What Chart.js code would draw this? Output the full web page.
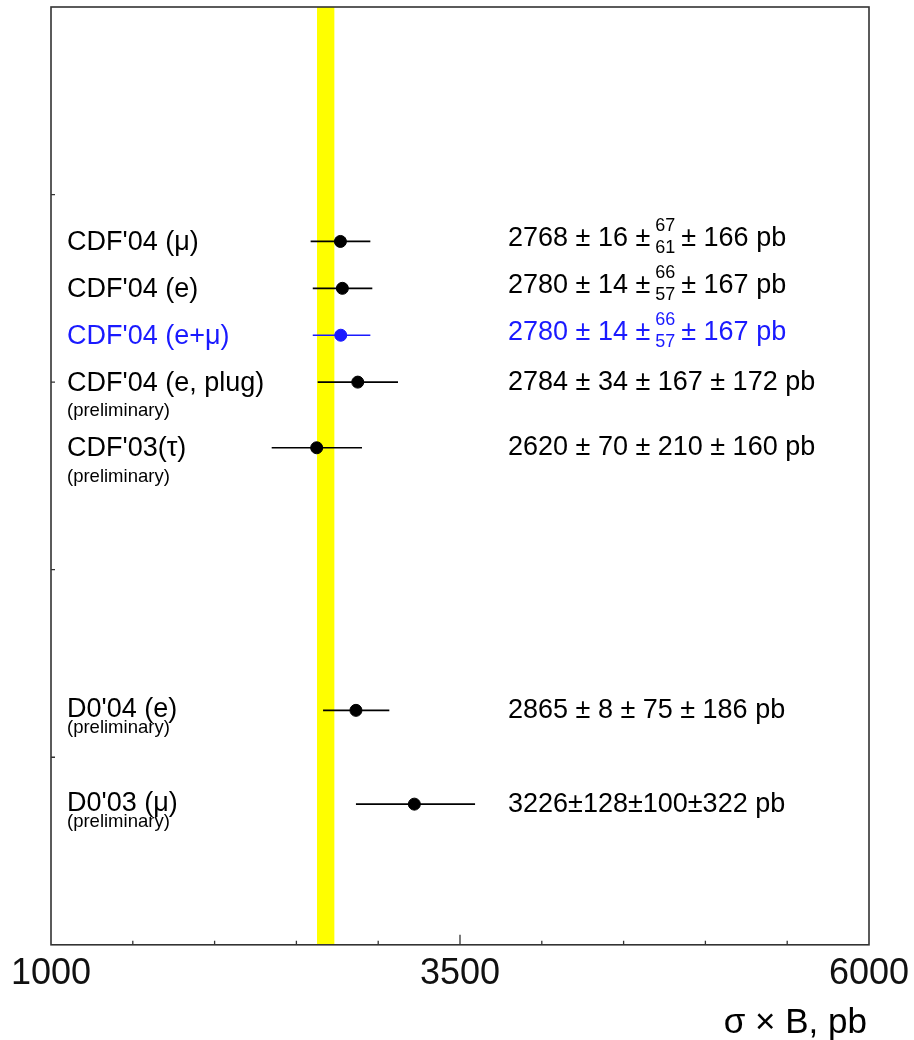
<!DOCTYPE html>
<html>
<head>
<meta charset="utf-8">
<script src="https://cdn.jsdelivr.net/npm/chart.js@4.4.1/dist/chart.umd.min.js"></script>
<style>
  html, body { margin: 0; padding: 0; background: #fff; }
  #wrap { width: 914px; height: 1040px; }
</style>
</head>
<body>
<div id="wrap"><canvas id="canvas"></canvas></div>
<script>
// measurements, top to bottom
const labels = ["CDF'04 (μ)", "CDF'04 (e)", "CDF'04 (e+μ)", "CDF'04 (e, plug)", "CDF'03(τ)", "D0'04 (e)", "D0'03 (μ)"]
const notes = ["", "", "", "(preliminary)", "(preliminary)", "(preliminary)", "(preliminary)"]
const rowPos = [3.75, 3.5, 3.25, 3.0, 2.65, 1.25, 0.75]

// plotted points and error bar ends (pb)
const xValues = [2769, 2781, 2771, 2875, 2624, 2864, 3221]
const xLow = [2587, 2600, 2600, 2630, 2349, 2663, 2864]
const xHigh = [2952, 2964, 2952, 3121, 2901, 3068, 3592]

// quoted results: central ± stat ± sys(+up/-down) ± lumi
const resCentral = [2768, 2780, 2780, 2784, 2620, 2865, 3226]
const resStat = [16, 14, 14, 34, 70, 8, 128]
const resSysUp = [67, 66, 66, 167, 210, 75, 100]
const resSysDown = [61, 57, 57, 167, 210, 75, 100]
const resLumi = [166, 167, 167, 172, 160, 186, 322]

const highlighted = [false, false, true, false, false, false, false]

// theory band
const bandLow = 2626
const bandHigh = 2732

const xMin = 1000
const xMax = 6000
const xMajor = [1000, 3500, 6000]
const xTitle = "σ × B, pb"

// layout-only settings
const tightLabel = [false, false, false, false, false, true, true]
const tightText = [false, false, false, false, false, false, true]

const font = "'Liberation Sans', Arial, Helvetica, sans-serif"
const blue = "#1a1aff"
let canvas = document.getElementById("canvas").getContext("2d")

const colorOf = i => highlighted[i] ? blue : "#000"

const errorBars = labels.map((name, i) => ({
    label: name,
    data: [{ x: xLow[i], y: rowPos[i] }, { x: xHigh[i], y: rowPos[i] }],
    showLine: true,
    borderColor: colorOf(i),
    borderWidth: 1.7,
    pointRadius: 0,
    pointHoverRadius: 0,
    order: 1
}))

const points = {
    label: "points",
    data: labels.map((n, i) => ({ x: xValues[i], y: rowPos[i] })),
    backgroundColor: labels.map((n, i) => colorOf(i)),
    borderColor: labels.map((n, i) => colorOf(i)),
    pointRadius: 6,
    pointHoverRadius: 6,
    order: 0
}

function drawResult(ctx, i, x, y) {
    ctx.fillStyle = colorOf(i)
    ctx.textBaseline = "middle"
    ctx.textAlign = "left"
    const big = "27px " + font
    const small = "18px " + font
    ctx.font = big
    if (resSysUp[i] !== resSysDown[i]) {
        y -= 3
        let s = resCentral[i] + " ± " + resStat[i] + " ±"
        ctx.fillText(s, x, y)
        x += ctx.measureText(s).width + 5
        ctx.font = small
        ctx.fillText(String(resSysUp[i]), x, y - 12)
        ctx.fillText(String(resSysDown[i]), x, y + 10)
        x += Math.max(ctx.measureText(String(resSysUp[i])).width, ctx.measureText(String(resSysDown[i])).width) + 6
        ctx.font = big
        ctx.fillText("± " + resLumi[i] + " pb", x, y)
    } else {
        const sep = tightText[i] ? "±" : " ± "
        ctx.fillText(resCentral[i] + sep + resStat[i] + sep + resSysUp[i] + sep + resLumi[i] + " pb", x, y)
    }
}

const overlay = {
    id: "overlay",
    beforeDatasetsDraw(chart) {
        const { ctx, chartArea: a, scales: { x } } = chart
        const l = x.getPixelForValue(bandLow)
        const r = x.getPixelForValue(bandHigh)
        ctx.save()
        ctx.fillStyle = "#ffff00"
        ctx.fillRect(l, a.top, r - l, a.bottom - a.top)
        ctx.restore()
    },
    afterDatasetsDraw(chart) {
        const { ctx, chartArea: a, scales: { x, y } } = chart
        ctx.save()
        ctx.strokeStyle = "#333"
        ctx.lineWidth = 1.6
        ctx.strokeRect(a.left, a.top, a.right - a.left, a.bottom - a.top)
        ctx.lineWidth = 1.3
        ctx.beginPath()
        for (let v = xMin + 500; v < xMax; v += 500) {
            const px = x.getPixelForValue(v)
            const len = xMajor.includes(v) ? 10 : 4
            ctx.moveTo(px, a.bottom)
            ctx.lineTo(px, a.bottom - len)
        }
        for (let v = 1; v < 5; v++) {
            const py = y.getPixelForValue(v)
            ctx.moveTo(a.left, py)
            ctx.lineTo(a.left + 4, py)
        }
        ctx.stroke()

        // row labels and quoted results
        labels.forEach((name, i) => {
            const py = y.getPixelForValue(rowPos[i])
            ctx.fillStyle = colorOf(i)
            ctx.textAlign = "left"
            ctx.textBaseline = "middle"
            ctx.font = "27px " + font
            ctx.fillText(name, a.left + 16, py + (tightLabel[i] ? -1 : 1))
            if (notes[i]) {
                ctx.font = "18.5px " + font
                ctx.fillStyle = "#000"
                ctx.fillText(notes[i], a.left + 16, py + (tightLabel[i] ? 18 : 29))
            }
            drawResult(ctx, i, 508, py)
        })

        ctx.fillStyle = "#000"
        ctx.font = "35px " + font
        ctx.textAlign = "right"
        ctx.textBaseline = "middle"
        ctx.fillText(xTitle, a.right - 2, 1023)
        ctx.restore()
    }
}

const config = {
    type: "scatter",
    data: { datasets: [points, ...errorBars] },
    options: {
        responsive: true,
        maintainAspectRatio: false,
        animation: false,
        layout: { padding: { left: 51, right: 45, top: 7, bottom: 36 } },
        plugins: { legend: { display: false }, tooltip: { enabled: false } },
        scales: {
            x: {
                type: "linear",
                min: xMin,
                max: xMax,
                grid: { display: false, drawTicks: false },
                border: { display: false },
                afterFit: scale => {
                    scale.paddingLeft = 0
                    scale.paddingRight = 0
                },
                ticks: {
                    stepSize: 500,
                    autoSkip: false,
                    maxRotation: 0,
                    padding: 8,
                    color: "#111",
                    font: { family: font, size: 36 },
                    callback: v => xMajor.includes(v) ? String(v) : ""
                }
            },
            y: {
                type: "linear",
                min: 0,
                max: 5,
                display: false
            }
        }
    },
    plugins: [overlay]
}

let chart = new Chart(canvas, config)
</script>
</body>
</html>
